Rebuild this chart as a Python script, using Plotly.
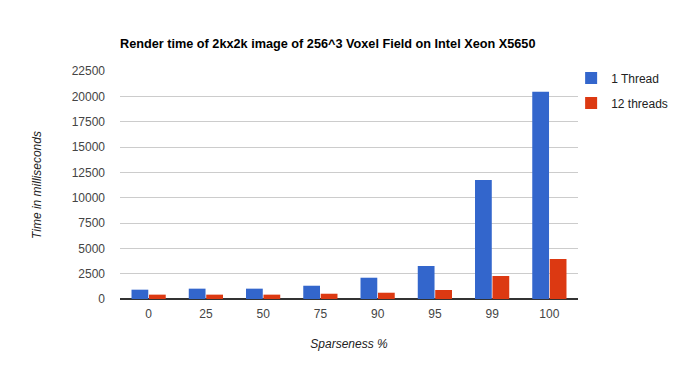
import plotly.graph_objects as go

categories = ["0", "25", "50", "75", "90", "95", "99", "100"]
one_thread = [920, 1020, 1020, 1310, 2100, 3260, 11750, 20450]
twelve_threads = [430, 430, 430, 520, 620, 890, 2270, 3950]
y_ticks = [0, 2500, 5000, 7500, 10000, 12500, 15000, 17500, 20000, 22500]

font_family = "Liberation Sans, Arial, sans-serif"

fig = go.Figure()
fig.add_trace(go.Bar(x=categories, y=one_thread, name="1 Thread", marker_color="#3366cc",
                     marker_line_width=0, legendgroup="a"))
fig.add_trace(go.Bar(x=categories, y=twelve_threads, name="12 threads", marker_color="#dc3912",
                     marker_line_width=0, legendgroup="b"))

W, H = 691, 363
L = 112
fig.update_layout(
    width=W, height=H,
    margin=dict(l=L, r=121, t=63, b=72),
    paper_bgcolor="white", plot_bgcolor="white",
    barmode="group", bargap=0.39, bargroupgap=0.04,
    font=dict(family=font_family, size=12, color="#222"),
    title=dict(text="<b>Render time of 2kx2k image of 256^3 Voxel Field on Intel Xeon X5650</b>",
               xref="paper", x=0.0, xanchor="left", y=1 - 36 / H, yanchor="middle",
               font=dict(size=12.7, color="#000")),
    legend=dict(x=0.985, xanchor="left", y=1.033, yanchor="top", font=dict(size=12, color="#222"),
                bgcolor="rgba(0,0,0,0)", traceorder="grouped", tracegroupgap=6),
    showlegend=True,
)
fig.update_xaxes(
    type="category", showgrid=False, showline=False, ticks="",
    ticklabelstandoff=6,
    tickfont=dict(size=12, color="#444"),
    title=dict(text="<i>Sparseness %</i>", font=dict(size=12, color="#222"), standoff=19),
)
fig.update_yaxes(
    range=[0, 22500], tickvals=y_ticks, ticktext=[str(v) for v in y_ticks],
    showgrid=True, gridcolor="#cccccc", gridwidth=1,
    zeroline=True, zerolinecolor="#333333", zerolinewidth=2,
    showline=False, ticks="", ticklabelstandoff=14,
    tickfont=dict(size=12, color="#444"),
    title=dict(text="<i>Time in milliseconds</i>", font=dict(size=12, color="#222"), standoff=27),
)

fig.write_html("out.html")
